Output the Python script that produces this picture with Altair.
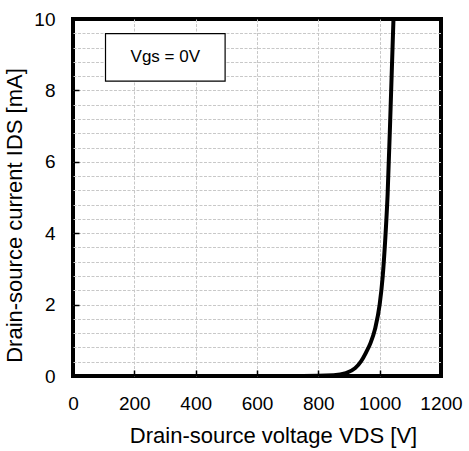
import altair as alt
import pandas as pd

vds = [0, 750, 850, 890, 920, 940, 955, 970, 985, 1000, 1010, 1018, 1026, 1036, 1045]
ids = [0, 0, 0.02, 0.08, 0.22, 0.42, 0.65, 0.92, 1.32, 2.0, 2.8, 3.8, 5.1, 7.6, 10]

x_ticks = [0, 200, 400, 600, 800, 1000, 1200]
y_ticks = [0, 2, 4, 6, 8, 10]
y_grid = [round(i * 0.4, 1) for i in range(26)]

note_text = ["Vgs = 0V"]
note_x = [106]
note_x2 = [496]
note_y = [8.26]
note_y2 = [9.59]

df = pd.DataFrame({"vds": vds, "ids": ids})
note = pd.DataFrame({"t": note_text, "x": note_x, "x2": note_x2,
                     "y": note_y, "y2": note_y2,
                     "xm": [(a + b) / 2 for a, b in zip(note_x, note_x2)],
                     "ym": [(a + b) / 2 for a, b in zip(note_y, note_y2)]})

W, H = 368, 357
FONT = "Liberation Sans"

xs = alt.Scale(domain=[0, 1200], nice=False, zero=False)
ys = alt.Scale(domain=[0, 10], nice=False)

grid_color = "#c8c8c8"
x_edge = {"condition": {"test": "datum.value <= 0 || datum.value >= 1200", "value": 0}, "value": 1}
y_edge = {"condition": {"test": "datum.value <= 0 || datum.value >= 10", "value": 0}, "value": 1}

main = alt.Chart(df).mark_line(color="black", strokeWidth=4, interpolate="monotone", clip=True).encode(
    x=alt.X("vds:Q", scale=xs,
            axis=alt.Axis(values=x_ticks, title="Drain-source voltage VDS [V]", format="d",
                          grid=True, gridColor=grid_color, gridDash=[3, 1.5], gridWidth=1,
                          gridOpacity=x_edge, titleX=200,
                          ticks=False, domain=False, labelPadding=18, titlePadding=12,
                          labelFontSize=19, titleFontSize=22, labelFont=FONT, titleFont=FONT,
                          labelColor="black", titleColor="black", titleFontWeight="normal",
                          labelFlush=False)),
    y=alt.Y("ids:Q", scale=ys,
            axis=alt.Axis(values=y_grid, title="Drain-source current IDS [mA]",
                          labelExpr="datum.value % 2 == 0 ? format(datum.value, 'd') : ''",
                          grid=True, gridColor=grid_color, gridDash=[3, 1.5], gridWidth=1,
                          gridOpacity=y_edge, titleY=196,
                          ticks=False, domain=False, labelPadding=18, titlePadding=7,
                          labelFontSize=19, titleFontSize=22, labelFont=FONT, titleFont=FONT,
                          labelColor="black", titleColor="black", titleFontWeight="normal",
                          labelFlush=False)),
)

tick_layer = alt.Chart(df).mark_line(opacity=0).encode(
    x=alt.X("vds:Q", scale=xs,
            axis=alt.Axis(values=x_ticks, orient="top", offset=-H, labels=False, title=None,
                          grid=False, domain=False, ticks=True, tickSize=6,
                          tickColor="black", tickWidth=1.5)),
    y=alt.Y("ids:Q", scale=ys,
            axis=alt.Axis(values=y_ticks, orient="right", offset=-W, labels=False, title=None,
                          grid=False, domain=False, ticks=True, tickSize=6,
                          tickColor="black", tickWidth=1.5)),
)

box = alt.Chart(note).mark_rect(fill="white", stroke="black", strokeWidth=1.2).encode(
    x=alt.X("x:Q", scale=xs, axis=None), x2="x2:Q",
    y=alt.Y("y:Q", scale=ys, axis=None), y2="y2:Q",
)
label = alt.Chart(note).mark_text(font=FONT, fontSize=17, color="black").encode(
    x=alt.X("xm:Q", scale=xs, axis=None), y=alt.Y("ym:Q", scale=ys, axis=None), text="t:N",
)

chart = alt.layer(main, tick_layer, box, label).resolve_axis(
    x="independent", y="independent"
).properties(
    width=W, height=H, background="white",
    padding={"left": 3, "top": 10, "right": 5, "bottom": 5},
).configure_view(
    stroke="black", strokeWidth=4
)

chart.save("out.html", embed_options={"renderer": "svg", "actions": False})
